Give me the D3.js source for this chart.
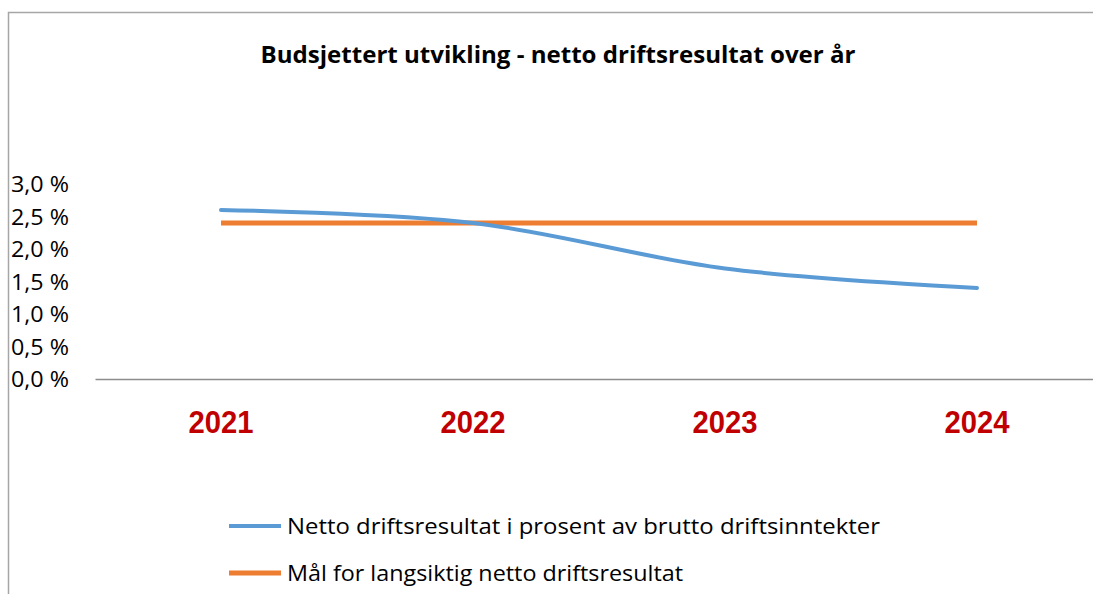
<!DOCTYPE html>
<meta charset="utf-8">
<title>Budsjettert utvikling</title>
<script src="https://d3js.org/d3.v7.min.js"></script>
<style>
  body { margin: 0; background: #fff; }
</style>
<div id="chart"></div>
<script>

// data
var years = ["2021", "2022", "2023", "2024"];
var nettoDrift = [2.6, 2.4, 1.7, 1.4];
var maal = [2.4, 2.4, 2.4, 2.4];
var yTicks = [0, 0.5, 1, 1.5, 2, 2.5, 3];
var seriesNames = ["Netto driftsresultat i prosent av brutto driftsinntekter",
                   "Mål for langsiktig netto driftsresultat"];
var seriesColors = ["#5B9BD5", "#ED7D31"];
var legendWidths = [593, 396];

var W = 1093, H = 594;
var margin = {top: 184, left: 95};

var svg = d3.select("#chart").append("svg")
    .attr("width", W)
    .attr("height", H);

// chart frame (runs past the right and bottom edge)
svg.append("rect")
    .attr("x", 8.5).attr("y", 12.5)
    .attr("width", W + 20).attr("height", H + 20)
    .attr("fill", "none")
    .attr("stroke", "#A6A6A6")
    .attr("stroke-width", 1.5);

// title
svg.append("text")
    .attr("x", 558).attr("y", 63)
    .attr("text-anchor", "middle")
    .attr("font-family", "Open Sans, sans-serif")
    .attr("font-weight", "bold")
    .attr("font-size", 23)
    .attr("textLength", 595)
    .attr("lengthAdjust", "spacingAndGlyphs")
    .attr("fill", "#000")
    .text("Budsjettert utvikling - netto driftsresultat over år");

var x = d3.scaleBand()
    .domain(years)
    .range([margin.left, margin.left + 252 * 4]);

var y = d3.scaleLinear()
    .domain([0, 3])
    .range([379, margin.top]);

// y labels
var yAxis = svg.append("g")
    .attr("transform", "translate(11,0)")
    .call(d3.axisLeft(y).tickValues(yTicks).tickSize(0)
      .tickFormat(function(d) { return d3.format(".1f")(d).replace(".", ",") + " %"; }));
yAxis.select(".domain").remove();
yAxis.selectAll("text")
    .attr("text-anchor", "start")
    .attr("x", 0)
    .attr("dy", "0.36em")
    .attr("font-family", "Open Sans, sans-serif")
    .attr("font-size", 21)
    .attr("textLength", 58)
    .attr("lengthAdjust", "spacingAndGlyphs")
    .attr("fill", "#000");

// x axis
var xAxis = svg.append("g")
    .attr("transform", "translate(0," + y(0) + ")")
    .call(d3.axisBottom(x).tickSize(0).tickPadding(31));
xAxis.select(".domain")
    .attr("stroke", "#8C8C8C")
    .attr("stroke-width", 1.3);
xAxis.selectAll("text")
    .attr("font-family", "Liberation Sans, Arial, sans-serif")
    .attr("font-weight", "bold")
    .attr("font-size", 32)
    .attr("textLength", 65)
    .attr("lengthAdjust", "spacingAndGlyphs")
    .attr("fill", "#C00000");

var cx = function(d, i) { return x(years[i]) + x.bandwidth() / 2; };

// target line
svg.append("path")
    .datum(maal)
    .attr("fill", "none")
    .attr("stroke", seriesColors[1])
    .attr("stroke-width", 5)
    .attr("d", d3.line().x(cx).y(function(d) { return y(d); }));

// smoothed result line
svg.append("path")
    .datum(nettoDrift)
    .attr("fill", "none")
    .attr("stroke", seriesColors[0])
    .attr("stroke-width", 4)
    .attr("stroke-linecap", "round")
    .attr("d", d3.line().x(cx).y(function(d) { return y(d); }).curve(d3.curveCatmullRom));

// legend
var legend = svg.append("g");
seriesNames.forEach(function(name, i) {
  var ly = 526 + i * 47;
  legend.append("line")
      .attr("x1", 229).attr("x2", 281)
      .attr("y1", ly).attr("y2", ly)
      .attr("stroke", seriesColors[i])
      .attr("stroke-width", i == 0 ? 4 : 5);
  legend.append("text")
      .attr("x", 287).attr("y", ly)
      .attr("dy", "0.36em")
      .attr("font-family", "Open Sans, sans-serif")
      .attr("font-size", 22)
      .attr("textLength", legendWidths[i])
      .attr("lengthAdjust", "spacingAndGlyphs")
      .attr("fill", "#000")
      .text(name);
});

</script>
